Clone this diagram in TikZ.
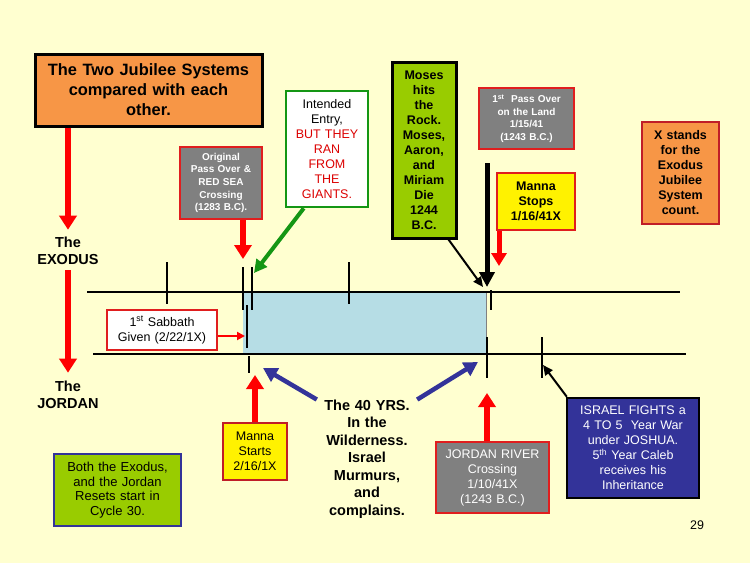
\documentclass[tikz,border=0pt]{standalone}
\usepackage{fontspec}
\setmainfont{Liberation Sans}
\usetikzlibrary{arrows.meta}
\definecolor{slidebg}{RGB}{255,255,208}
\definecolor{boxorange}{RGB}{247,150,70}
\definecolor{boxgrey}{RGB}{128,128,128}
\definecolor{boxgreen}{RGB}{153,204,0}
\definecolor{boxblue}{RGB}{51,51,153}
\definecolor{boxred}{RGB}{224,30,30}
\definecolor{darkred}{RGB}{192,30,40}
\definecolor{wildblue}{RGB}{182,221,229}
\definecolor{entrygreen}{RGB}{20,150,20}
\definecolor{textred}{RGB}{220,0,0}
\tikzset{
	box/.style 2 args={draw=#1,fill=#2,line width=2.5pt,inner sep=0pt,align=center},
	small/.style={font=\fontsize{10}{12.6}\selectfont\bfseries},
	norm/.style={font=\fontsize{12.5}{15}\selectfont},
	bold/.style={font=\fontsize{12.5}{15}\selectfont\bfseries},
	redarrow/.style={draw=red,line width=6pt,-{Triangle[width=17pt,length=14pt]}},
	thinarrow/.style={draw=black,line width=2pt,-{Triangle[width=9pt,length=10pt]}},
	bluearrow/.style={draw=boxblue,line width=4.5pt,-{Triangle[width=15pt,length=14pt]}},
	tick/.style={line width=2.5pt}
}
\begin{document}
\begin{tikzpicture}[x=1pt,y=-1pt]
	\fill[slidebg] (0,0) rectangle (750,563);
	\useasboundingbox (0,0) rectangle (750,563);

	% the two time lines
	\fill[wildblue] (243,292) rectangle (486,354);
	\draw[gray,line width=0.6pt] (486,292) -- (486,354);
	\draw[line width=2.5pt] (87,292) -- (680,292);
	\draw[line width=2.5pt] (93,354) -- (686,354);
	\draw[tick] (167,262) -- (167,304);
	\draw[tick] (243,267) -- (243,310);
	\draw[tick] (252,267) -- (252,310);
	\draw[tick] (349,262) -- (349,304);
	\draw[tick] (491,290) -- (491,310);
	\draw[tick] (247,305) -- (247,348);
	\draw[tick] (249,356) -- (249,373);
	\draw[tick] (487,337) -- (487,378);
	\draw[tick] (542,337) -- (542,378);

	\coordinate (redsea) at (243,259);
	\coordinate (entry) at (254,273);
	\coordinate (rock) at (483,287);
	\coordinate (landtick) at (487,287);
	\coordinate (stoptick) at (499,266);
	\coordinate (sabtick) at (245,336);
	\coordinate (starttick) at (255,375);
	\coordinate (wildleft) at (263,368);
	\coordinate (wildright) at (478,362);
	\coordinate (crosstick) at (487,393);
	\coordinate (wartick) at (543,365);

	% boxes
	\node [box={black}{boxorange},line width=3pt,minimum width=227pt,minimum height=72pt,text width=222pt,
		font=\fontsize{16.4}{20}\selectfont\bfseries] (title) at (148.5,90) {The Two Jubilee Systems\\compared with each\\other.};
	\node [box={boxred}{boxgrey},small,text=white,minimum width=82pt,minimum height=72pt,text width=80pt] (orig) at (221,183)
		{Original\\Pass Over \&\\RED SEA\\Crossing\\(1283 B.C).};
	\node [box={entrygreen}{white},norm,minimum width=82pt,minimum height=116pt,text width=80pt] (intended) at (327,149)
		{Intended\\Entry,\\\color{textred}BUT THEY\\RAN\\FROM\\THE\\GIANTS.};
	\node [box={black}{boxgreen},bold,line width=3pt,minimum width=64pt,minimum height=176pt,text width=62pt] (moses) at (424,150)
		{Moses\\hits\\the\\Rock.\\Moses,\\Aaron,\\and\\Miriam\\Die\\1244\\B.C.};
	\node [box={boxred}{boxgrey},small,text=white,minimum width=95pt,minimum height=61pt,text width=92pt] (passland) at (526.5,118.5)
		{1\textsuperscript{st}\ \ Pass Over\\on the Land\\1/15/41\\(1243 B.C.)};
	\node [box={boxred}{yellow},bold,minimum width=78pt,minimum height=57pt,text width=76pt] (stops) at (536,201.5)
		{Manna\\Stops\\1/16/41X};
	\node [box={darkred}{boxorange},bold,minimum width=77pt,minimum height=102pt,text width=75pt] (xstands) at (680.5,173)
		{X stands\\for the\\Exodus\\Jubilee\\System\\count.};
	\node [box={boxred}{white},norm,minimum width=110pt,minimum height=40pt,text width=108pt] (sabbath) at (162,330)
		{1\textsuperscript{st} Sabbath\\Given (2/22/1X)};
	\node [box={darkred}{yellow},norm,minimum width=64pt,minimum height=57pt,text width=62pt] (starts) at (255,451.5)
		{Manna\\Starts\\2/16/1X};
	\node [box={boxblue}{boxgreen},norm,font=\fontsize{13}{14.7}\selectfont,minimum width=127pt,minimum height=72pt,text width=125pt] (both) at (117.5,490)
		{Both the Exodus,\\and the Jordan\\Resets start in\\Cycle 30.};
	\node [box={boxred}{boxgrey},norm,text=white,minimum width=113pt,minimum height=71pt,text width=111pt] (river) at (492.5,477.5)
		{JORDAN RIVER\\Crossing\\1/10/41X\\(1243 B.C.)};
	\node [box={black}{boxblue},norm,text=white,minimum width=132pt,minimum height=100pt,text width=130pt] (fights) at (633,448)
		{ISRAEL FIGHTS a\\4 TO 5\ \ Year War\\under JOSHUA.\\5\textsuperscript{th} Year Caleb\\receives his\\Inheritance};

	% plain labels
	\node [align=center,inner sep=0pt,font=\fontsize{14.5}{17.5}\selectfont\bfseries] (exodus) at (68,251) {The\\EXODUS};
	\node [align=center,inner sep=0pt,font=\fontsize{14.5}{17.5}\selectfont\bfseries] (jordan) at (68,395) {The\\JORDAN};
	\node [align=center,inner sep=0pt,text width=100pt,font=\fontsize{14.5}{17.5}\selectfont\bfseries] (yrs) at (367,459)
		{The 40 YRS.\\In the\\Wilderness.\\Israel\\Murmurs,\\and\\complains.};
	\node [inner sep=0pt,font=\fontsize{12.5}{15}\selectfont] (page) at (697,525) {29};

	% arrows
	\draw[redarrow] (title.south -| exodus.north) -- ([yshift=7pt]exodus.north);
	\draw[redarrow] ([yshift=-5pt]exodus.south) -- ([yshift=8pt]jordan.north);
	\draw[redarrow] (orig.south -| redsea) -- (redsea);
	\draw[draw=entrygreen,line width=4pt,-{Triangle[width=13pt,length=13pt]}] ([xshift=19pt]intended.south west) -- (entry);
	\draw[thinarrow] ([xshift=-9pt]moses.south east) -- (rock);
	\draw[line width=5pt,-{Triangle[width=15pt,length=15pt]},shorten <=13pt] (passland.south -| landtick) -- (landtick);
	\draw[redarrow,line width=5pt,-{Triangle[width=15pt,length=13pt]}] (stops.south -| stoptick) -- (stoptick);
	\draw[draw=red,line width=2.5pt,-{Triangle[width=8pt,length=8pt]}] (sabbath.east |- sabtick) -- (sabtick);
	\draw[redarrow] (starts.north) -- (starttick);
	\draw[bluearrow] (yrs.north west) -- (wildleft);
	\draw[bluearrow] (yrs.north east) -- (wildright);
	\draw[redarrow] (river.north -| crosstick) -- (crosstick);
	\draw[thinarrow] ([xshift=1pt]fights.north west) -- (wartick);
\end{tikzpicture}
\end{document}
